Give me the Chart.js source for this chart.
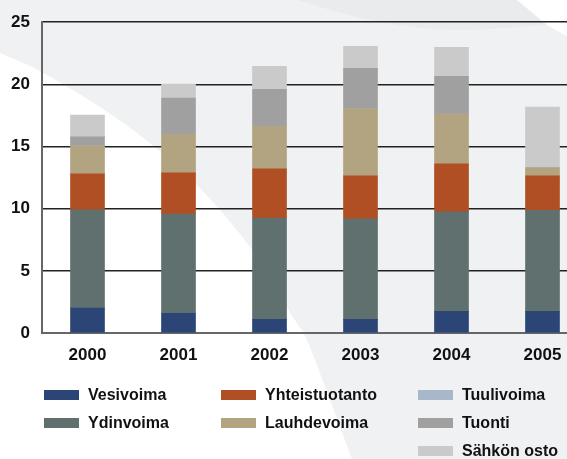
<!DOCTYPE html>
<html>
<head>
<meta charset="utf-8">
<script src="https://cdn.jsdelivr.net/npm/chart.js@4/dist/chart.umd.min.js"></script>
<style>
html,body{margin:0;padding:0;overflow:hidden;width:567px;height:459px;background:#fff;}
#wrap{position:relative;width:567px;height:459px;overflow:hidden;}
#c{position:absolute;left:0;top:0;}
.lg{position:absolute;font-family:"Liberation Sans",Arial,sans-serif;font-weight:bold;font-size:16px;color:#111;line-height:20px;white-space:nowrap;}
.sw{position:absolute;width:35px;height:10px;}
</style>
</head>
<body>
<div id="wrap">
<canvas id="c" width="588" height="459"></canvas>
</div>
<script>
// ---- data ----
const years = ["2000", "2001", "2002", "2003", "2004", "2005"];
const seriesNames = ["Vesivoima", "Ydinvoima", "Yhteistuotanto", "Lauhdevoima", "Tuulivoima", "Tuonti", "Sähkön osto"];
const vesivoima      = [2.0, 1.58, 1.1, 1.1, 1.74, 1.74];
const ydinvoima      = [7.9, 7.99, 8.15, 8.09, 8.01, 8.12];
const yhteistuotanto = [2.9, 3.31, 3.95, 3.45, 3.85, 2.78];
const lauhdevoima    = [2.25, 3.1, 3.42, 5.39, 4.0, 0.64];
const tuulivoima     = [0, 0, 0, 0, 0, 0];
const tuonti         = [0.72, 2.91, 2.98, 3.26, 3.05, 0];
const sahkonOsto     = [1.76, 1.14, 1.85, 1.76, 2.32, 4.89];
const yTicks = [0, 5, 10, 15, 20, 25];

const seriesValues = [vesivoima, ydinvoima, yhteistuotanto, lauhdevoima, tuulivoima, tuonti, sahkonOsto];
const colors = ["#2b4577", "#5f706f", "#b04f23", "#b2a480", "#a8b7ca", "#a0a0a0", "#cacaca"];

// background swoosh
function catmull(ctx, pts){
  ctx.lineTo(pts[0][0], pts[0][1]);
  for (let i = 0; i < pts.length - 1; i++) {
    const p0 = pts[Math.max(i-1,0)], p1 = pts[i], p2 = pts[i+1], p3 = pts[Math.min(i+2, pts.length-1)];
    ctx.bezierCurveTo(p1[0]+(p2[0]-p0[0])/6, p1[1]+(p2[1]-p0[1])/6,
                      p2[0]-(p3[0]-p1[0])/6, p2[1]-(p3[1]-p1[1])/6, p2[0], p2[1]);
  }
}
const bgPlugin = {
  id: 'bg',
  beforeDraw(chart){
    const ctx = chart.ctx, W = chart.width, H = chart.height;
    ctx.save();
    ctx.fillStyle = '#ffffff';
    ctx.fillRect(0,0,W,H);
    ctx.fillStyle = '#f0f1f3';
    ctx.beginPath();
    ctx.moveTo(0,0);
    catmull(ctx, [[0,53],[40,71],[100,107],[150,143],[195,183],[250,247],[293,317],[307,340],[330,400],[352,459]]);
    ctx.lineTo(W,H); ctx.lineTo(W,0); ctx.closePath(); ctx.fill();
    // darker top band
    ctx.fillStyle = '#eaebed';
    ctx.beginPath();
    ctx.moveTo(297,0);
    catmull(ctx, [[297,0],[370,20],[450,30],[547,25]]);
    ctx.lineTo(517,0); ctx.closePath(); ctx.fill();
    // white wedge top right
    ctx.fillStyle = '#ffffff';
    ctx.beginPath();
    ctx.moveTo(517,0); ctx.lineTo(W,0); ctx.lineTo(W,48); ctx.lineTo(547,25); ctx.closePath(); ctx.fill();
    ctx.restore();
  }
};

const chart = new Chart(document.getElementById('c'), {
  type: 'bar',
  data: {
    labels: years,
    datasets: seriesNames.map((n,i) => ({
      label: n, data: seriesValues[i], backgroundColor: colors[i],
      borderWidth: 0, barThickness: 34, stack: 's'
    }))
  },
  plugins: [bgPlugin],
  options: {
    responsive: false, animation: false, devicePixelRatio: 1,
    layout: { padding: { top: 21, bottom: 89, left: 0, right: 0 } },
    plugins: { legend: { display: false }, tooltip: { enabled: false } },
    scales: {
      x: {
        stacked: true,
        grid: { display: false, drawTicks: false },
        border: { display: true, color: '#666', width: 2 },
        ticks: { color: '#111', padding: 12, font: { family: '"Liberation Sans", Arial, sans-serif', size: 17, weight: 'bold' } },
        afterFit(s){ s.height = 37; }
      },
      y: {
        stacked: true, min: 0, max: 25,
        afterBuildTicks(s){ s.ticks = yTicks.map(v => ({ value: v })); },
        grid: { drawTicks: false, lineWidth: 1.5, color: ctx => ctx.tick && ctx.tick.value === 0 ? 'rgba(0,0,0,0)' : '#222' },
        border: { display: true, color: '#666', width: 2 },
        ticks: { color: '#111', padding: 12, font: { family: '"Liberation Sans", Arial, sans-serif', size: 17, weight: 'bold' } },
        afterFit(s){ s.width = 42; }
      }
    }
  }
});

// HTML legend (column-major, 3 columns)
const wrap = document.getElementById('wrap');
const colX = [44, 221, 418];
const rowY = [395, 423, 451];
const layout = [[0,0],[0,1],[1,0],[1,1],[2,0],[2,1],[2,2]];
seriesNames.forEach((n,i) => {
  const [c, r] = layout[i];
  const sw = document.createElement('div');
  sw.className = 'sw';
  sw.style.left = colX[c] + 'px';
  sw.style.top = (rowY[r] - 5) + 'px';
  sw.style.background = colors[i];
  wrap.appendChild(sw);
  const t = document.createElement('div');
  t.className = 'lg';
  t.textContent = n;
  t.style.left = (colX[c] + 44) + 'px';
  t.style.top = (rowY[r] - 10) + 'px';
  wrap.appendChild(t);
});
</script>
</body>
</html>
